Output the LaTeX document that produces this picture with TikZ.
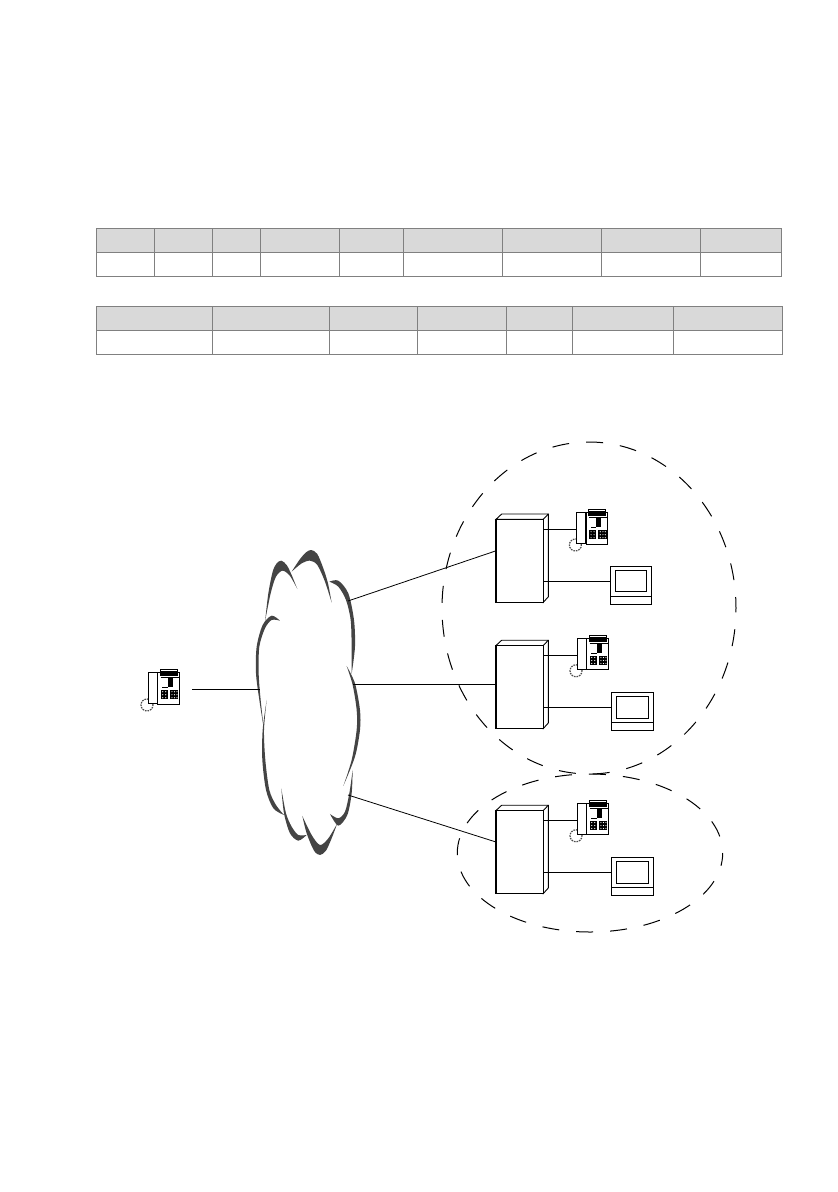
\documentclass[tikz,border=0pt]{standalone}
\usepackage{xcolor}
\usetikzlibrary{shapes.geometric}
\definecolor{rulegrey}{RGB}{128,128,128}
\definecolor{headgrey}{RGB}{217,217,217}
\definecolor{cloudgrey}{RGB}{68,68,68}

\newcommand{\cloudlobe}[2]{\fill[cloudgrey] plot[smooth] coordinates {#1} -- plot[smooth] coordinates {#2} -- cycle;}

\tikzset{
  cell/.style={draw=rulegrey, line width=0.9pt, anchor=north west, inner sep=0pt, outer sep=0pt, minimum height=24pt},
  headcell/.style={cell, fill=headgrey},
  link/.style={draw, line width=0.8pt},
  zone/.style={draw, line width=1pt, dash pattern=on 17pt off 17pt, ellipse, inner sep=0pt, outer sep=0pt},
  srvfront/.style={draw, line width=1.1pt, fill=white, anchor=north west, inner sep=0pt, outer sep=0pt, minimum width=47.3pt, minimum height=83pt},
  monbody/.style={draw, line width=0.9pt, fill=white, anchor=north west, inner sep=0pt, outer sep=0pt, minimum width=41.6pt, minimum height=38pt},
  telbody/.style={anchor=north west, inner sep=0pt, outer sep=0pt, minimum width=31pt, minimum height=33pt},
  server/.pic={
    \draw[line width=0.9pt, fill=white] (0,0) -- (5.7,-5.3) -- (52.3,-5.3) -- (52.3,77.5) -- (47.3,83) -- (47.3,0) -- cycle;
    \draw[line width=0.9pt] (47.3,0) -- (52.3,-5.3);
    \node[srvfront] (-front) at (0,0) {};
  },
  monitor/.pic={
    \node[monbody] (-body) at (0,0) {};
    \draw[line width=0.9pt] (5,4.3) rectangle (36.7,25.7);
    \draw[line width=0.9pt] (0,30) -- (41.6,30);
  },
  telset/.pic={
    \node[telbody] (-body) at (0,0) {};
    % cord
    \draw[line width=1.2pt, dash pattern=on 1.6pt off 1pt, black!70] (-1.3,32.3) circle (6pt);
    % base
    \draw[line width=1pt, fill=white] (9.3,0) rectangle (30.7,31.3);
    \draw[line width=0.8pt, fill=white] (11.7,-3.3) rectangle (29,3);
    \fill (12.7,-1.7) rectangle (28.3,3);
    \draw[line width=0.8pt] (12.2,5) -- (30.2,5);
    % display
    \fill (19.3,5.7) rectangle (24.5,14);
    \fill (14,14) rectangle (19.3,15.5);
    % keys
    \fill (12.7,17.3) rectangle (19.3,26.7);
    \fill (21.7,17.3) rectangle (30,26.7);
    \foreach \kx in {14.4,17.4}
      \foreach \ky in {19,22,25}
        \fill[white] (\kx,\ky) circle (0.6pt);
    \foreach \kx in {23.6,26.2,28.6}
      \foreach \ky in {19,22,25}
        \fill[white] (\kx,\ky) circle (0.6pt);
    % handset
    \draw[line width=1.3pt, fill=white] (0,0) rectangle (9.3,31);
  }
}

\begin{document}
\begin{tikzpicture}[x=1pt, y=-1pt]
  \useasboundingbox (0,0) rectangle (838,1192);

  % First table
  \foreach \cx/\cw/\cn in {96/58/a,154/58/b,212/48/c,260/79/d,339/64/e,403/99/f,502/99/g,601/99/h,700/81.5/i}{
    \node[headcell, minimum width=\cw pt] (topH\cn) at (\cx,228) {};
    \node[cell, minimum width=\cw pt] (topB\cn) at (\cx,252) {};
  }

  % Second table
  \foreach \cx/\cw/\cn in {96/116.5/a,212.5/117/b,329.5/88/c,417.5/88.5/d,506/66/e,572/101/f,673/109/g}{
    \node[headcell, minimum width=\cw pt] (lowH\cn) at (\cx,306.5) {};
    \node[cell, minimum width=\cw pt] (lowB\cn) at (\cx,330.5) {};
  }

  % Zones
  \node[zone, dash phase=6pt, minimum width=294pt, minimum height=332pt] (zoneA) at (589,608) {};
  \node[zone, dash phase=17pt, minimum width=265.4pt, minimum height=158pt] (zoneB) at (590,853) {};

  % Cloud
  \begin{scope}[shift={(240,540)}, x=0.3333pt, y=-0.3333pt]
    \cloudlobe{(75,245) (85,160) (98,95) (110,70) (124,62) (140,75) (155,105) (172,147)}{(172,147) (150,108) (128,92) (108,110) (92,160) (75,245)}
    \cloudlobe{(155,95) (178,60) (198,37) (214,30) (232,42) (250,85) (264,130) (275,188)}{(275,188) (255,125) (232,75) (210,62) (185,70) (155,95)}
    \cloudlobe{(268,125) (295,122) (325,160) (342,240) (345,320) (335,402)}{(335,402) (335,320) (332,240) (318,180) (295,140) (268,125)}
    \cloudlobe{(120,242) (95,227) (68,255) (50,320) (48,400) (58,480) (72,570)}{(72,570) (62,480) (56,400) (58,320) (75,265) (95,240) (120,242)}
    \cloudlobe{(320,378) (345,430) (360,510) (360,570) (345,650) (310,738)}{(310,738) (335,660) (350,570) (350,510) (338,435) (320,378)}
    \cloudlobe{(80,480) (68,570) (67,660) (78,750) (100,805) (132,825)}{(132,825) (108,795) (88,750) (76,660) (72,570) (80,480)}
    \cloudlobe{(124,745) (132,820) (150,880) (175,902) (200,885)}{(200,885) (175,885) (155,860) (138,820) (124,745)}
    \cloudlobe{(187,828) (200,880) (222,932) (240,945) (258,932) (275,895) (292,850)}{(292,850) (265,895) (240,915) (215,885) (187,828)}
    \cloudlobe{(270,822) (295,857) (322,825) (335,760) (338,690)}{(338,690) (328,760) (315,815) (295,835) (270,822)}
  \end{scope}
  \coordinate (cloudW) at (260,689);
  \coordinate (cloudNE) at (348,601);
  \coordinate (cloudE) at (353.3,684);
  \coordinate (cloudSE) at (348,795);

  % Sites
  \pic (srvA) at (496,519.3) {server};
  \pic (srvB) at (496,645.5) {server};
  \pic (srvC) at (496,810.5) {server};
  \pic (monA) at (610,566) {monitor};
  \pic (monB) at (611.7,692.5) {monitor};
  \pic (monC) at (611.7,857.5) {monitor};
  \pic (telA) at (576.7,512.7) {telset};
  \pic (telB) at (577.3,638.5) {telset};
  \pic (telC) at (577.3,803.5) {telset};

  % Caller
  \pic (telD) at (148.3,672.7) {telset};
  \coordinate (telDout) at (192.3,689);

  % Links
  \draw[link] (telDout) -- (cloudW);
  \draw[link] (cloudNE) -- ([yshift=10pt]srvA-front.west);
  \draw[link] (cloudE) -- (srvB-front.west |- cloudE);
  \draw[link] (cloudSE) -- ([yshift=10pt]srvC-front.west);
  \draw[link] (srvA-front.east |- telA-body.west) -- (telA-body.west);
  \draw[link] (srvB-front.east |- telB-body.west) -- (telB-body.west);
  \draw[link] (srvC-front.east |- telC-body.west) -- (telC-body.west);
  \draw[link] (srvA-front.east |- 0,581) -- (monA-body.west |- 0,581);
  \draw[link] (srvB-front.east |- 0,707.5) -- (monB-body.west |- 0,707.5);
  \draw[link] (srvC-front.east |- 0,872.5) -- (monC-body.west |- 0,872.5);
\end{tikzpicture}
\end{document}
